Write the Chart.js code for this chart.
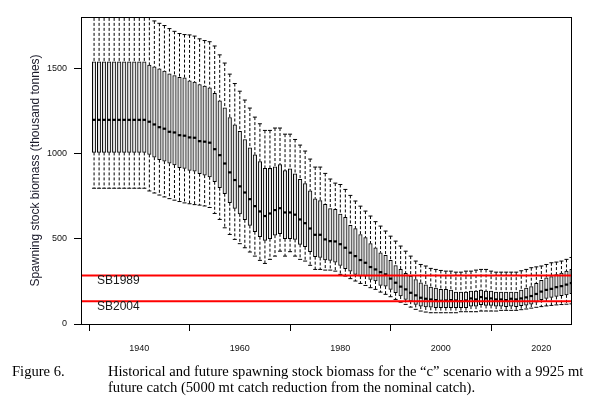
<!DOCTYPE html>
<html>
<head>
<meta charset="utf-8">
<script src="https://cdn.jsdelivr.net/npm/chart.js@4.4.1/dist/chart.umd.min.js"></script>
<style>
html, body { margin: 0; padding: 0; background: #fff; }
#wrap { position: relative; width: 603px; height: 419px; }
#chart { position: absolute; left: 0; top: 0; }
.cap { position: absolute; font-family: "Liberation Serif", "Times New Roman", serif; font-size: 14.6px; line-height: 16px; color: #000; white-space: nowrap; }
</style>
</head>
<body>
<div id="wrap">
<canvas id="chart" width="603" height="419"></canvas>
<div class="cap" style="left:12px;top:363px;">Figure 6.</div>
<div class="cap" style="left:108px;top:363px;">Historical and future spawning stock biomass for the “c” scenario with a 9925 mt<br>future catch (5000 mt catch reduction from the nominal catch).</div>
</div>
<script>
// years 1931 - 2026, one box per year
var years = [
    1931, 1932, 1933, 1934, 1935, 1936, 1937, 1938, 1939, 1940, 1941,
    1942, 1943, 1944, 1945, 1946, 1947, 1948, 1949, 1950, 1951,
    1952, 1953, 1954, 1955, 1956, 1957, 1958, 1959, 1960, 1961,
    1962, 1963, 1964, 1965, 1966, 1967, 1968, 1969, 1970, 1971,
    1972, 1973, 1974, 1975, 1976, 1977, 1978, 1979, 1980, 1981,
    1982, 1983, 1984, 1985, 1986, 1987, 1988, 1989, 1990, 1991,
    1992, 1993, 1994, 1995, 1996, 1997, 1998, 1999, 2000, 2001,
    2002, 2003, 2004, 2005, 2006, 2007, 2008, 2009, 2010, 2011,
    2012, 2013, 2014, 2015, 2016, 2017, 2018, 2019, 2020, 2021,
    2022, 2023, 2024, 2025, 2026
];

// lower whisker end
var whiskerLow = [
    796, 796, 796, 796, 796, 796, 796, 796, 796, 796, 796,
    780, 768, 756, 745, 735, 726, 718, 710, 705, 700,
    697, 692, 683, 648, 613, 564, 525, 496, 471, 447,
    422, 398, 373, 355, 379, 398, 427, 398, 424, 398,
    379, 369, 344, 320, 320, 316, 316, 310, 291, 281,
    266, 252, 238, 226, 213, 203, 187, 174, 160, 144,
    128, 115, 99, 86, 76, 70, 66, 66, 66, 66,
    66, 66, 72, 72, 72, 72, 76, 76, 76, 76,
    80, 80, 80, 80, 84, 88, 93, 98, 102, 106,
    109, 112, 114, 116, 118
];

var boxLow = [
    1006, 1006, 1006, 1006, 1006, 1006, 1006, 1006, 1006, 1006, 1006,
    994, 978, 963, 955, 943, 932, 916, 912, 900, 896,
    881, 873, 863, 834, 799, 764, 711, 678, 646, 611,
    578, 541, 512, 490, 500, 521, 529, 500, 500, 496,
    467, 453, 424, 395, 390, 375, 373, 363, 343, 324,
    310, 291, 281, 281, 261, 252, 226, 222, 203, 183,
    164, 144, 134, 115, 105, 100, 98, 96, 96, 96,
    96, 96, 96, 96, 105, 105, 113, 109, 109, 105,
    105, 101, 105, 101, 107, 111, 117, 128, 142, 150,
    156, 162, 166, 171, 178
];

var medians = [
    1197, 1197, 1197, 1197, 1197, 1197, 1197, 1197, 1197, 1197, 1197,
    1186, 1170, 1154, 1145, 1127, 1123, 1107, 1104, 1094, 1092,
    1072, 1069, 1063, 1025, 990, 941, 889, 844, 807, 771,
    732, 691, 660, 633, 648, 668, 679, 654, 654, 641,
    613, 591, 560, 523, 523, 496, 486, 484, 468, 447,
    418, 398, 375, 359, 334, 320, 304, 291, 266, 242,
    219, 203, 183, 168, 154, 148, 144, 140, 136, 138,
    140, 138, 134, 138, 150, 144, 158, 150, 150, 144,
    144, 140, 148, 144, 150, 156, 164, 176, 190, 200,
    206, 216, 222, 231, 240
];

var boxHigh = [
    1537, 1537, 1537, 1537, 1537, 1537, 1537, 1537, 1537, 1537, 1537,
    1518, 1508, 1496, 1483, 1467, 1457, 1446, 1444, 1426, 1418,
    1404, 1395, 1385, 1352, 1309, 1268, 1211, 1168, 1129, 1082,
    1033, 992, 953, 912, 912, 922, 934, 899, 910, 881,
    848, 824, 781, 734, 723, 701, 676, 672, 645, 625,
    578, 559, 525, 506, 472, 447, 418, 402, 373, 343,
    320, 297, 281, 261, 242, 230, 217, 210, 203, 203,
    199, 187, 187, 187, 193, 193, 199, 193, 193, 187,
    187, 187, 187, 187, 199, 210, 220, 238, 256, 270,
    278, 290, 299, 310, 320
];

// upper whisker end (first years run off the top of the plot)
var whiskerHigh = [
    2000, 2000, 2000, 2000, 2000, 2000, 2000, 2000, 2000, 2000, 2000,
    1798, 1777, 1763, 1750, 1732, 1716, 1703, 1697, 1695, 1688,
    1672, 1662, 1655, 1630, 1578, 1530, 1465, 1410, 1365, 1313,
    1266, 1213, 1174, 1135, 1135, 1149, 1149, 1113, 1113, 1082,
    1049, 1014, 967, 920, 920, 883, 850, 826, 818, 789,
    754, 721, 691, 662, 633, 600, 574, 545, 515, 486,
    457, 427, 398, 369, 349, 340, 326, 320, 314, 310,
    310, 304, 304, 310, 310, 316, 320, 320, 310, 304,
    304, 304, 304, 304, 312, 320, 330, 335, 340, 349,
    359, 363, 369, 379, 390
];

var refLevels = [285, 134];
var refLabels = ['SB1989', 'SB2004'];

var xTickValues = [1940, 1960, 1980, 2000, 2020];
var yTickValues = [0, 500, 1000, 1500];
var xRange = [1928.4, 2026.1];
var yRange = [0, 1800];

var boxData = [], medData = [], capData = [], whiskerData = [];
for (var i = 0; i < years.length; i++) {
    boxData.push({ x: years[i], y: [boxLow[i], boxHigh[i]] });
    medData.push({ x: years[i], y: medians[i] });
    capData.push({ x: years[i], y: whiskerHigh[i] });
    capData.push({ x: years[i], y: whiskerLow[i] });
    whiskerData.push({ x: years[i], y: whiskerHigh[i] });
    whiskerData.push({ x: years[i], y: boxHigh[i] });
    whiskerData.push({ x: years[i], y: null });
    whiskerData.push({ x: years[i], y: boxLow[i] });
    whiskerData.push({ x: years[i], y: whiskerLow[i] });
    whiskerData.push({ x: years[i], y: null });
}

var refDatasets = [];
for (var r = 0; r < refLevels.length; r++) {
    refDatasets.push({
        type: 'line',
        data: [{ x: xRange[0], y: refLevels[r] }, { x: xRange[1], y: refLevels[r] }],
        borderColor: '#ff0000',
        borderWidth: 2,
        pointRadius: 0,
        order: 0
    });
}

var axisFont = { family: '"Liberation Sans", Arial, sans-serif', size: 9 };

// frame around the plot plus the reference line labels
var framePlugin = {
    id: 'frame',
    afterDatasetsDraw: function(chart) {
        var a = chart.chartArea;
        var ctx = chart.ctx;
        var yScale = chart.scales.y;
        ctx.save();
        ctx.strokeStyle = '#000';
        ctx.lineWidth = 1;
        ctx.strokeRect(a.left + 0.5, a.top + 0.5, a.right - a.left - 1, a.bottom - a.top);
        ctx.fillStyle = '#1a1a1a';
        ctx.font = '12px "Liberation Sans", Arial, sans-serif';
        ctx.textAlign = 'left';
        ctx.textBaseline = 'alphabetic';
        for (var k = 0; k < refLevels.length; k++) {
            ctx.fillText(refLabels[k], a.left + 16, yScale.getPixelForValue(refLevels[k]) + 9);
        }
        ctx.restore();
    }
};

new Chart(document.getElementById('chart'), {
    type: 'bar',
    data: {
        datasets: refDatasets.concat([
            {
                type: 'scatter',
                data: medData,
                pointStyle: 'line',
                pointRadius: 1.7,
                borderWidth: 2.2,
                borderColor: '#000',
                order: 1
            },
            {
                type: 'bar',
                data: boxData,
                backgroundColor: '#e4e4e4',
                borderColor: '#000',
                borderWidth: 1,
                borderSkipped: false,
                barThickness: 3.5,
                order: 2
            },
            {
                type: 'scatter',
                data: capData,
                pointStyle: 'line',
                pointRadius: 2,
                borderWidth: 1,
                borderColor: '#000',
                order: 3
            },
            {
                type: 'line',
                data: whiskerData,
                borderColor: '#000',
                borderWidth: 1,
                borderDash: [3, 2],
                pointRadius: 0,
                spanGaps: false,
                order: 4
            }
        ])
    },
    options: {
        responsive: false,
        animation: false,
        layout: { padding: { top: 17, right: 31, bottom: 0, left: 0 } },
        plugins: {
            legend: { display: false },
            tooltip: { enabled: false }
        },
        scales: {
            x: {
                type: 'linear',
                min: xRange[0],
                max: xRange[1],
                offset: false,
                afterBuildTicks: function(s) {
                    s.ticks = xTickValues.map(function(v) { return { value: v }; });
                },
                afterFit: function(s) { s.height = 95; },
                ticks: {
                    color: '#111',
                    font: axisFont,
                    padding: 12,
                    maxRotation: 0,
                    callback: function(v) { return String(v); }
                },
                grid: { display: true, drawOnChartArea: false, tickLength: 7, tickColor: '#000', tickWidth: 1 },
                border: { display: false }
            },
            y: {
                min: yRange[0],
                max: yRange[1],
                afterBuildTicks: function(s) {
                    s.ticks = yTickValues.map(function(v) { return { value: v }; });
                },
                afterFit: function(s) { s.width = 81; },
                ticks: {
                    color: '#111',
                    font: axisFont,
                    padding: 7,
                    callback: function(v) { return String(v); }
                },
                grid: { display: true, drawOnChartArea: false, tickLength: 7, tickColor: '#000', tickWidth: 1 },
                border: { display: false },
                title: {
                    display: true,
                    text: 'Spawning stock biomass (thousand tonnes)',
                    color: '#1a1a2a',
                    font: { family: '"Liberation Sans", Arial, sans-serif', size: 12 },
                    padding: { top: 28, bottom: 0 }
                }
            }
        }
    },
    plugins: [framePlugin]
});
</script>
</body>
</html>
